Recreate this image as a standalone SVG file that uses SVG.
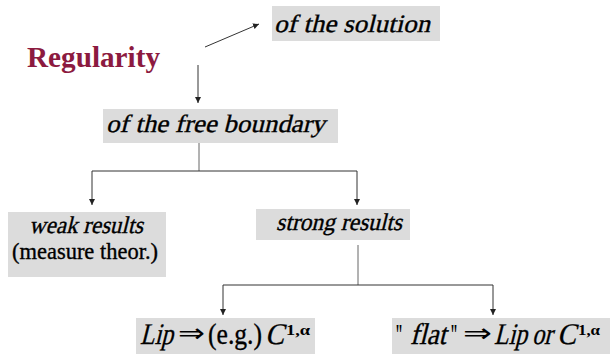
<svg xmlns="http://www.w3.org/2000/svg" width="610" height="354" viewBox="0 0 610 354">
<defs>
<marker id="ah" markerWidth="8" markerHeight="8" refX="6" refY="3" orient="auto" markerUnits="userSpaceOnUse">
<path d="M0,0 L6,3 L0,6 Z" fill="#222"/>
</marker>
<style>
.box{fill:#dcdcdc}
.ln{stroke:#333;stroke-width:1;fill:none}
.lg{stroke:#666;stroke-width:1;fill:none}
.t{stroke:#000;stroke-width:0.35}
</style>
</defs>
<rect width="610" height="354" fill="#fff"/>
<g id="connectors">
<line class="ln" x1="205" y1="47" x2="259" y2="24" marker-end="url(#ah)"/>
<line class="ln" x1="198" y1="65" x2="198" y2="103" marker-end="url(#ah)"/>
<path class="lg" d="M199,143 V171"/>
<path class="ln" d="M92,171 H357"/>
<line class="ln" x1="92" y1="171" x2="92" y2="205" marker-end="url(#ah)"/>
<line class="ln" x1="357" y1="171" x2="357" y2="205" marker-end="url(#ah)"/>
<path class="lg" d="M358,245 V285"/>
<path class="ln" d="M223,285 H493"/>
<line class="ln" x1="223" y1="285" x2="223" y2="315" marker-end="url(#ah)"/>
<line class="ln" x1="493" y1="285" x2="493" y2="315" marker-end="url(#ah)"/>
</g>
<g font-family="Liberation Serif, Times New Roman, serif" fill="#000">
<g id="regularity">
<text x="27" y="67" font-weight="bold" font-size="29" fill="#8c1a40" textLength="133" lengthAdjust="spacingAndGlyphs">Regularity</text>
</g>
<g id="solution">
<rect class="box" x="272" y="6" width="168" height="35"/>
<text class="t" transform="translate(274,32) skewX(-14)" font-size="25" textLength="156" lengthAdjust="spacingAndGlyphs">of  the solution</text>
</g>
<g id="free-boundary">
<rect class="box" x="103" y="109" width="235" height="34"/>
<text class="t" transform="translate(106,132) skewX(-14)" font-size="25" textLength="219" lengthAdjust="spacingAndGlyphs">of  the free boundary</text>
</g>
<g id="weak">
<rect class="box" x="8" y="212" width="158" height="65"/>
<text class="t" transform="translate(29,233) skewX(-14)" font-size="24" textLength="114" lengthAdjust="spacingAndGlyphs">weak results</text>
<text class="t" x="12" y="259" font-size="23" textLength="146" lengthAdjust="spacingAndGlyphs">(measure theor.)</text>
</g>
<g id="strong">
<rect class="box" x="256" y="209" width="154" height="31"/>
<text class="t" transform="translate(276,230) skewX(-14)" font-size="24" textLength="126" lengthAdjust="spacingAndGlyphs">strong results</text>
</g>
<g id="lip">
<rect class="box" x="136" y="318" width="179" height="36"/>
<text class="t" transform="translate(140,344) skewX(-14)" font-size="30" textLength="33" lengthAdjust="spacingAndGlyphs">Lip</text>
<text x="178" y="342" font-family="DejaVu Sans, sans-serif" font-size="26" textLength="27" lengthAdjust="spacingAndGlyphs">⇒</text>
<text class="t" x="208" y="344" font-size="30" textLength="54" lengthAdjust="spacingAndGlyphs">(e.g.)</text>
<text class="t" transform="translate(265,344) skewX(-14)" font-size="30" textLength="19" lengthAdjust="spacingAndGlyphs">C</text>
<text x="286" y="335" font-size="15" font-weight="bold" textLength="24" lengthAdjust="spacingAndGlyphs">1,α</text>
</g>
<g id="flat">
<rect class="box" x="392" y="318" width="218" height="36"/>
<text x="395" y="344" font-size="30" font-weight="bold" textLength="8" lengthAdjust="spacingAndGlyphs">"</text>
<text class="t" transform="translate(410,344) skewX(-14)" font-size="30" textLength="36" lengthAdjust="spacingAndGlyphs">flat</text>
<text x="450" y="344" font-size="30" font-weight="bold" textLength="8" lengthAdjust="spacingAndGlyphs">"</text>
<text x="463" y="342" font-family="DejaVu Sans, sans-serif" font-size="26" textLength="29" lengthAdjust="spacingAndGlyphs">⇒</text>
<text class="t" transform="translate(494,344) skewX(-14)" font-size="30" textLength="33" lengthAdjust="spacingAndGlyphs">Lip</text>
<text class="t" transform="translate(532,344) skewX(-14)" font-size="30" textLength="20" lengthAdjust="spacingAndGlyphs">or</text>
<text class="t" transform="translate(557,344) skewX(-14)" font-size="30" textLength="19" lengthAdjust="spacingAndGlyphs">C</text>
<text x="578" y="335" font-size="15" font-weight="bold" textLength="22" lengthAdjust="spacingAndGlyphs">1,α</text>
</g>
</g>
</svg>
